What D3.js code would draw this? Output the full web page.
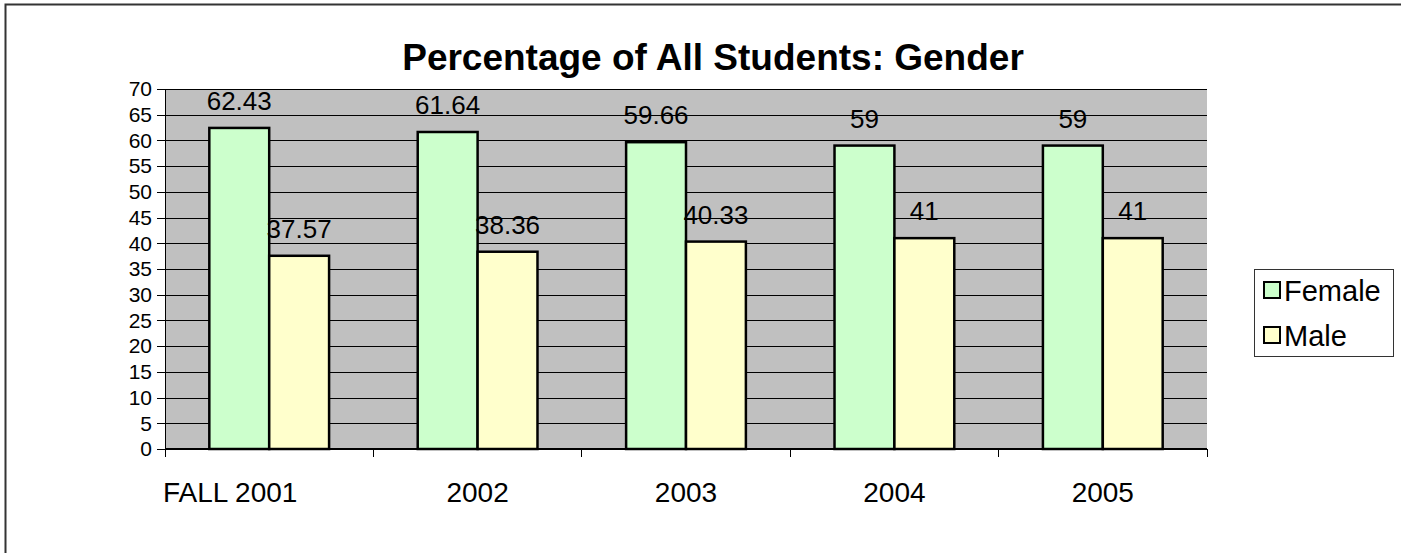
<!DOCTYPE html>
<html>
<head>
<meta charset="utf-8">
<script src="https://d3js.org/d3.v7.min.js"></script>
<style>
  html, body { margin: 0; padding: 0; background: #fff; overflow: hidden; }
  svg { display: block; }
  svg text { font-family: "Liberation Sans", Arial, sans-serif; fill: #000; }
  .axis path, .axis line { stroke: #000; shape-rendering: crispEdges; }
</style>
</head>
<body>
<div id="chart"></div>
<script>

// data
var years = ["FALL 2001", "2002", "2003", "2004", "2005"];
var seriesNames = ["Female", "Male"];
var female = [62.43, 61.64, 59.66, 59, 59];
var male = [37.57, 38.36, 40.33, 41, 41];
var yTicks = [0, 5, 10, 15, 20, 25, 30, 35, 40, 45, 50, 55, 60, 65, 70];

var colors = { Female: "#ccffcc", Male: "#ffffcc" };

var W = 1401, H = 553;
var margin = { top: 89, left: 165, right: 194, bottom: 104 };
var width = W - margin.left - margin.right,
    height = H - margin.top - margin.bottom;

var svg = d3.select("#chart").append("svg")
    .attr("width", W)
    .attr("height", H);

// outer chart border: only top and left edges are inside the window
svg.append("path")
    .attr("d", "M5.5," + H + "V4.5H" + W)
    .attr("fill", "none")
    .attr("stroke", "#333")
    .attr("stroke-width", 2);

// title
svg.append("text")
    .attr("x", 713)
    .attr("y", 70)
    .attr("text-anchor", "middle")
    .style("font-size", "37px")
    .style("font-weight", "bold")
    .text("Percentage of All Students: Gender");

var g = svg.append("g")
    .attr("transform", "translate(" + margin.left + "," + margin.top + ")");

var x0 = d3.scaleBand().domain(years).range([0, width]).padding(0);
var x1 = d3.scaleBand().domain(seriesNames).range([0, x0.bandwidth()])
    .paddingInner(0).paddingOuter(0.74);
var y = d3.scaleLinear().domain([0, 70]).range([height, 0]);

// plot background
g.append("rect")
    .attr("width", width).attr("height", height)
    .attr("fill", "#c0c0c0");

// gridlines
g.append("g")
    .attr("class", "axis grid")
    .call(d3.axisLeft(y).tickValues(yTicks).tickSize(-width).tickFormat(""))
    .call(function (s) { s.select(".domain").remove(); });

// y axis
g.append("g")
    .attr("class", "axis y")
    .call(d3.axisLeft(y).tickValues(yTicks).tickSize(8).tickPadding(5).tickSizeOuter(0))
    .selectAll("text")
    .style("font-size", "21px");

var rows = years.map(function (yr, i) {
    return { year: yr, values: [
        { key: "Female", value: female[i] },
        { key: "Male", value: male[i] }
    ] };
});

var groups = g.selectAll(".grp")
    .data(rows)
    .enter().append("g")
    .attr("class", "grp")
    .attr("transform", function (d) { return "translate(" + x0(d.year) + ",0)"; });

groups.selectAll("rect")
    .data(function (d) { return d.values; })
    .enter().append("rect")
    .attr("x", function (d) { return x1(d.key); })
    .attr("y", function (d) { return y(d.value); })
    .attr("width", x1.bandwidth())
    .attr("height", function (d) { return height - y(d.value); })
    .attr("fill", function (d) { return colors[d.key]; })
    .attr("stroke", "#000")
    .attr("stroke-width", 2.5);

// data labels
groups.selectAll("text.lbl")
    .data(function (d) { return d.values; })
    .enter().append("text")
    .attr("class", "lbl")
    .attr("x", function (d) { return x1(d.key) + x1.bandwidth() / 2; })
    .attr("y", function (d) { return y(d.value) - 18; })
    .attr("text-anchor", "middle")
    .style("font-size", "26px")
    .text(function (d) { return d.value; });

// x axis line and category boundary ticks
var xAxis = g.append("g")
    .attr("class", "axis x")
    .attr("transform", "translate(0," + height + ")");

xAxis.append("line")
    .attr("x1", 0).attr("x2", width)
    .attr("stroke", "#000").attr("stroke-width", 1.5);

xAxis.selectAll("line.tick")
    .data(years.concat(["end"]))
    .enter().append("line")
    .attr("class", "tick")
    .attr("x1", function (d) { return d === "end" ? width : x0(d); })
    .attr("x2", function (d) { return d === "end" ? width : x0(d); })
    .attr("y1", 0).attr("y2", 8);

xAxis.selectAll("text")
    .data(years)
    .enter().append("text")
    .attr("x", function (d, i) { return x0(d) + x0.bandwidth() / 2 + (i === 0 ? -39 : 0); })
    .attr("y", 53)
    .attr("text-anchor", "middle")
    .style("font-size", "28px")
    .text(function (d) { return d; });

// legend
var legend = svg.append("g").attr("transform", "translate(1254,269)");
legend.append("rect")
    .attr("x", 0.5).attr("y", 0.5)
    .attr("width", 139).attr("height", 87)
    .attr("fill", "#fff")
    .attr("stroke", "#333");

var items = legend.selectAll("g.item")
    .data(seriesNames)
    .enter().append("g")
    .attr("class", "item")
    .attr("transform", function (d, i) { return "translate(0," + (i * 45) + ")"; });

items.append("rect")
    .attr("x", 10).attr("y", 13)
    .attr("width", 16).attr("height", 16)
    .attr("fill", function (d) { return colors[d]; })
    .attr("stroke", "#000")
    .attr("stroke-width", 2);

items.append("text")
    .attr("x", 30)
    .attr("y", 32)
    .style("font-size", "29px")
    .text(function (d) { return d; });

</script>
</body>
</html>
